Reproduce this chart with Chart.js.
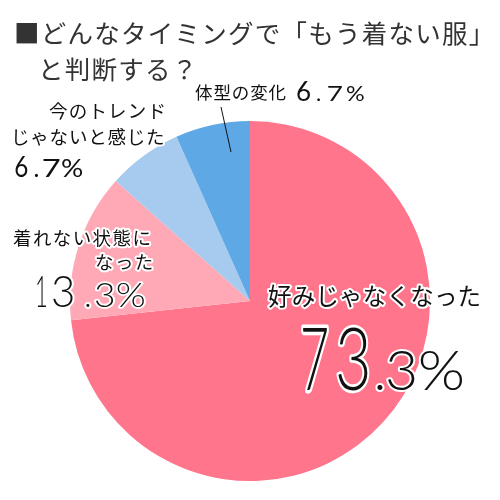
<!DOCTYPE html>
<html><head><meta charset="utf-8">
<script src="https://cdn.jsdelivr.net/npm/chart.js@4"></script>
<style>html,body{margin:0;padding:0;background:#fff}#w{width:500px;height:500px}</style>
</head><body><div id="w"><canvas id="c" width="500" height="500"></canvas></div>
<script>
const categories = ["好みじゃなくなった", "着れない状態になった", "今のトレンドじゃないと感じた", "体型の変化"];
const values = [73.3, 13.3, 6.7, 6.7];
const colors = ["#FF758C", "#FFA8B6", "#A6CBEE", "#5EA8E6"];
const titleLines = ["■どんなタイミングで「もう着ない服」", "と判断する？"];

const JP = '"Noto Sans CJK JP", sans-serif';
const NUM = 'Lato, "Open Sans", sans-serif';

function outlined(ctx, text, x, y, size, spacing) {
  ctx.save();
  ctx.font = '400 ' + size + 'px ' + JP; ctx.textAlign = 'left'; ctx.textBaseline = 'alphabetic';
  ctx.lineJoin = 'round'; ctx.strokeStyle = '#fff'; ctx.lineWidth = 4; ctx.fillStyle = '#111';
  let cx = x;
  for (const ch of text) { ctx.strokeText(ch, cx, y); cx += ctx.measureText(ch).width + spacing; }
  cx = x;
  for (const ch of text) { ctx.fillText(ch, cx, y); cx += ctx.measureText(ch).width + spacing; }
  ctx.restore();
}
// draw a glyph fitted into a horizontal box [l, r] at font size `size`
function glyphBox(ctx, ch, l, r, y, size, weight, pass) {
  ctx.save();
  ctx.font = weight + ' ' + size + 'px ' + NUM; ctx.textAlign = 'left'; ctx.textBaseline = 'alphabetic';
  const m = ctx.measureText(ch);
  const gw = m.actualBoundingBoxLeft + m.actualBoundingBoxRight;
  let sx = ch === '.' ? 1 : (r - l) / gw;
  const left = ch === '.' ? (l + r) / 2 - gw / 2 : l;
  ctx.translate(left + m.actualBoundingBoxLeft * sx, y); ctx.scale(sx, 1);
  ctx.lineJoin = 'round';
  if (pass === 0) { ctx.strokeStyle = '#fff'; ctx.lineWidth = 4 / sx; ctx.strokeText(ch, 0, 0); }
  else { ctx.fillStyle = '#111'; ctx.fillText(ch, 0, 0); }
  ctx.restore();
}
// value text: integer part large, ".d%" smaller
function drawValue(ctx, v, y, big, small, weight, boxes) {
  const s = v.toFixed(1) + '%';
  const nInt = s.indexOf('.');
  for (let pass = 0; pass < 2; pass++) {
    [...s].forEach((ch, i) => glyphBox(ctx, ch, boxes[i][0], boxes[i][1], y, i < nInt ? big : small, weight, pass));
  }
}

const labelsPlugin = {
  id: 'labels',
  afterDraw(chart) {
    const ctx = chart.ctx;
    ctx.save();
    // title
    ctx.fillStyle = '#333'; ctx.textBaseline = 'alphabetic'; ctx.textAlign = 'left';
    ctx.font = '400 25.5px ' + JP;
    let x = 14;
    for (const ch of titleLines[0]) { ctx.fillText(ch, x, 43); x += ctx.measureText(ch).width + 1.25; }
    x = 38;
    for (const ch of titleLines[1]) { ctx.fillText(ch, x, 79); x += ctx.measureText(ch).width + 1.25; }
    // leader line
    ctx.strokeStyle = '#111'; ctx.lineWidth = 1;
    ctx.beginPath(); ctx.moveTo(221, 107); ctx.lineTo(231, 152); ctx.stroke();
    // labels
    outlined(ctx, '体型の変化', 195, 99, 17.5, 0.9);
    drawValue(ctx, values[3], 101, 26, 22, 400, [[297, 310], [317, 320], [328, 342], [346, 364]]);
    outlined(ctx, '今のトレンド', 49, 118, 18.5, 1.2);
    outlined(ctx, 'じゃないと感じた', 11, 144, 18.5, 0.8);
    drawValue(ctx, values[2], 177, 28, 25, 400, [[15, 28], [35, 38], [43, 60], [62, 82]]);
    outlined(ctx, '着れない状態に', 13, 245, 18.5, 1.4);
    outlined(ctx, 'なった', 95, 269, 18.5, 1.4);
    drawValue(ctx, values[1], 307, 44, 33, 300, [[37, 46], [53, 73], [86, 90], [95, 113], [117, 145]]);
    outlined(ctx, '好みじゃなくなった', 268, 305, 23.5, 0.2);
    drawValue(ctx, values[0], 390, 86, 55, 300, [[303, 327], [338, 368], [377, 382], [388, 415], [420, 463]]);
    ctx.restore();
  }
};

new Chart(document.getElementById('c'), {
  type: 'pie',
  data: { labels: categories, datasets: [{ data: values, backgroundColor: colors, borderWidth: 0 }] },
  options: {
    responsive: false, animation: false, devicePixelRatio: 1,
    rotation: 0,
    layout: { padding: { left: 70, right: 70, top: 121, bottom: 19 } },
    plugins: { legend: { display: false }, tooltip: { enabled: false }, title: { display: false } }
  },
  plugins: [labelsPlugin]
});
</script></body></html>
